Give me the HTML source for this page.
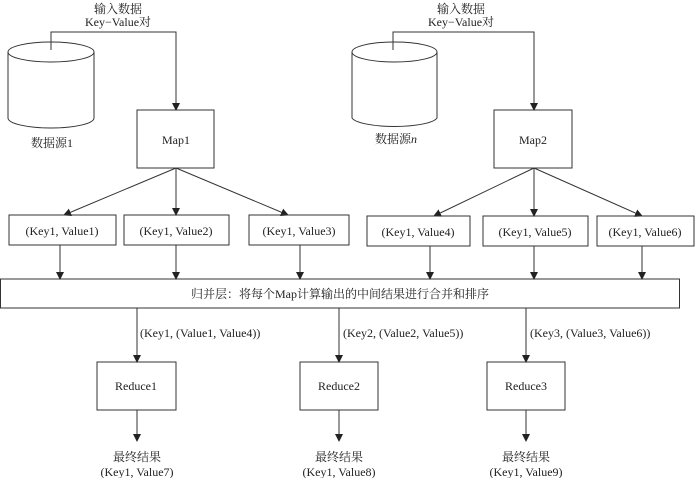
<!DOCTYPE html>
<html><head><meta charset="utf-8"><style>
html,body{margin:0;padding:0;background:#fff;}
svg{display:block;}
text{font-family:"Liberation Serif","Noto Serif CJK SC",serif;font-size:12px;fill:#222;}
</style></head><body>
<svg width="700" height="478" viewBox="0 0 700 478" xmlns="http://www.w3.org/2000/svg">
<defs><marker id="a" markerWidth="8" markerHeight="10" refX="7" refY="4" orient="auto" markerUnits="userSpaceOnUse"><path d="M0,0 L8,4 L0,8 z" fill="#222"/></marker></defs>
<g stroke="#333" stroke-width="1" fill="none">
<!-- cylinders -->
<path d="M8,52 L8,118 A43,10 0 0 0 94,118 L94,52"/>
<ellipse cx="51" cy="52" rx="43" ry="10"/>
<path d="M352,52 L352,118 A43,10 0 0 0 437,118 L437,52"/>
<ellipse cx="394.5" cy="52" rx="42.5" ry="10"/>
<!-- input lines -->
<path d="M51,50 V32 H176 V110" marker-end="url(#a)"/>
<path d="M393,50 V32 H534 V110" marker-end="url(#a)"/>
<!-- maps -->
<rect x="137" y="110" width="77" height="58"/>
<rect x="494" y="110" width="78" height="58"/>
<line x1="176" y1="168" x2="64" y2="215" marker-end="url(#a)"/>
<line x1="176" y1="168" x2="176" y2="215" marker-end="url(#a)"/>
<line x1="176" y1="168" x2="288" y2="215" marker-end="url(#a)"/>
<line x1="534" y1="168" x2="434" y2="216" marker-end="url(#a)"/>
<line x1="534" y1="168" x2="534" y2="216" marker-end="url(#a)"/>
<line x1="534" y1="168" x2="642" y2="216" marker-end="url(#a)"/>
<!-- kv boxes -->
<rect x="9" y="215" width="107" height="30"/>
<rect x="124" y="215" width="105" height="30"/>
<rect x="249" y="215" width="100" height="30"/>
<rect x="367" y="216" width="103" height="30"/>
<rect x="483" y="216" width="105" height="30"/>
<rect x="597" y="216" width="97" height="30"/>
<line x1="60" y1="245" x2="60" y2="279" marker-end="url(#a)"/>
<line x1="176" y1="245" x2="176" y2="279" marker-end="url(#a)"/>
<line x1="300" y1="245" x2="300" y2="279" marker-end="url(#a)"/>
<line x1="430" y1="246" x2="430" y2="279" marker-end="url(#a)"/>
<line x1="534" y1="246" x2="534" y2="279" marker-end="url(#a)"/>
<line x1="642" y1="246" x2="642" y2="279" marker-end="url(#a)"/>
<!-- bar -->
<rect x="0.5" y="279" width="679" height="29"/>
<line x1="137" y1="308" x2="137" y2="362" marker-end="url(#a)"/>
<line x1="339" y1="308" x2="339" y2="362" marker-end="url(#a)"/>
<line x1="526" y1="308" x2="526" y2="362" marker-end="url(#a)"/>
<rect x="97" y="362" width="79" height="48"/>
<rect x="300" y="362" width="78" height="48"/>
<rect x="487" y="362" width="78" height="48"/>
<line x1="137" y1="410" x2="137" y2="441" marker-end="url(#a)"/>
<line x1="339" y1="410" x2="339" y2="441" marker-end="url(#a)"/>
<line x1="526" y1="410" x2="526" y2="441" marker-end="url(#a)"/>
</g>
<g text-anchor="middle">
<text x="118" y="13">输入数据</text>
<text x="118" y="26">Key−Value对</text>
<text x="461" y="13">输入数据</text>
<text x="461" y="26">Key−Value对</text>
<text x="52" y="147">数据源1</text>
<text x="396" y="143">数据源<tspan font-style="italic">n</tspan></text>
<text x="176" y="144">Map1</text>
<text x="533" y="144">Map2</text>
<text x="62" y="235">(Key1, Value1)</text>
<text x="176" y="235">(Key1, Value2)</text>
<text x="299" y="235">(Key1, Value3)</text>
<text x="418" y="236">(Key1, Value4)</text>
<text x="535" y="236">(Key1, Value5)</text>
<text x="645" y="236">(Key1, Value6)</text>
<text x="340" y="298">归并层：将每个Map计算输出的中间结果进行合并和排序</text>
<text x="136" y="390">Reduce1</text>
<text x="339" y="390">Reduce2</text>
<text x="526" y="390">Reduce3</text>
<text x="137" y="461">最终结果</text>
<text x="137" y="476">(Key1, Value7)</text>
<text x="339" y="461">最终结果</text>
<text x="339" y="476">(Key1, Value8)</text>
<text x="526" y="461">最终结果</text>
<text x="526" y="476">(Key1, Value9)</text>
</g>
<text x="140" y="337">(Key1, (Value1, Value4))</text>
<text x="343" y="337">(Key2, (Value2, Value5))</text>
<text x="530" y="337">(Key3, (Value3, Value6))</text>
</svg>
</body></html>
